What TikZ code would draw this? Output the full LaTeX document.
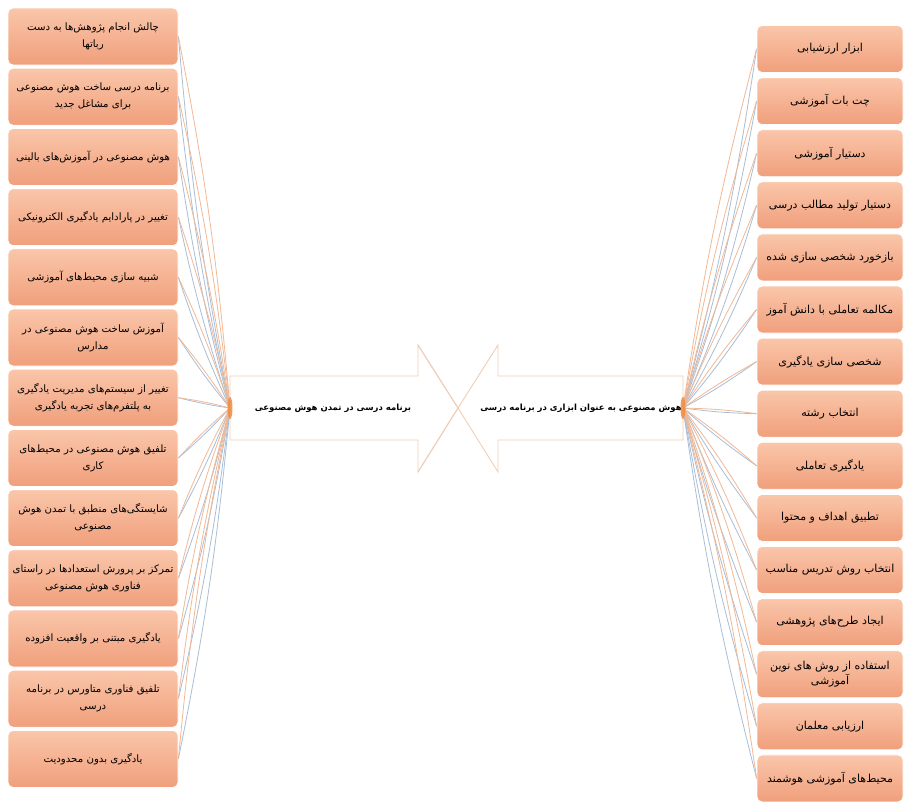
\documentclass[tikz,border=0pt]{standalone}
\usepackage{fontspec}
\TeXXeTstate=1
\newfontfamily\fa[Script=Arabic]{DejaVu Sans}
\newcommand\rl[1]{\beginR #1\endR}
\definecolor{boxtop}{HTML}{FAC6AA}
\definecolor{boxbot}{HTML}{F09F7B}
\definecolor{conblue}{HTML}{A9BED6}
\definecolor{conorange}{HTML}{F2B894}
\definecolor{arrowline}{HTML}{F1CDB6}
\definecolor{hubcol}{HTML}{F08A3C}
\begin{document}
\begin{tikzpicture}[x=1pt,y=-1pt,
  lbox/.style={rounded corners=5pt, top color=boxtop, bottom color=boxbot, draw=white, line width=0.8pt,
    minimum width=170pt, minimum height=57pt, align=center, inner sep=2pt,
    font=\fa\fontsize{10.2}{17}\selectfont},
  rbox/.style={lbox, minimum width=146pt, minimum height=47pt, font=\fa\fontsize{11}{15}\selectfont},
  conB/.style={draw=conblue, line width=0.8pt},
  conO/.style={draw=conorange, line width=0.8pt},
  bigarrow/.style={draw=arrowline, fill=white, line width=0.9pt},
  alabel/.style={font=\fa\bfseries\fontsize{8.5}{11}\selectfont, align=center}]
\useasboundingbox (0,0) rectangle (905,801);
\fill[white] (0,0) rectangle (905,801);
\coordinate (hubL) at (230,408);
\coordinate (hubR) at (683,408);
% left boxes
\foreach \t [count=\i from 0] in {
  {\rl{چالش انجام پژوهش‌ها به دست}\\\rl{رباتها}},
  {\rl{برنامه درسی ساخت هوش مصنوعی}\\\rl{برای مشاغل جدید}},
  {\rl{هوش مصنوعی در آموزش‌های بالینی}},
  {\rl{تغییر در پارادایم یادگیری الکترونیکی}},
  {\rl{شبیه سازی محیط‌های آموزشی}},
  {\rl{آموزش ساخت هوش مصنوعی در}\\\rl{مدارس}},
  {\rl{تغییر از سیستم‌های مدیریت یادگیری}\\\rl{به پلتفرم‌های تجربه یادگیری}},
  {\rl{تلفیق هوش مصنوعی در محیط‌های}\\\rl{کاری}},
  {\rl{شایستگی‌های منطبق با تمدن هوش}\\\rl{مصنوعی}},
  {\rl{تمرکز بر پرورش استعدادها در راستای}\\\rl{فناوری هوش مصنوعی}},
  {\rl{یادگیری مبتنی بر واقعیت افزوده}},
  {\rl{تلفیق فناوری متاورس در برنامه}\\\rl{درسی}},
  {\rl{یادگیری بدون محدودیت}}}
  \node[lbox] (L\i) at (93,{36.5+60.2*\i}) {\t};
% right boxes
\foreach \t [count=\i from 0] in {
  {\rl{ابزار ارزشیابی}},
  {\rl{چت بات آموزشی}},
  {\rl{دستیار آموزشی}},
  {\rl{دستیار تولید مطالب درسی}},
  {\rl{بازخورد شخصی سازی شده}},
  {\rl{مکالمه تعاملی با دانش آموز}},
  {\rl{شخصی سازی یادگیری}},
  {\rl{انتخاب رشته}},
  {\rl{یادگیری تعاملی}},
  {\rl{تطبیق اهداف و محتوا}},
  {\rl{انتخاب روش تدریس مناسب}},
  {\rl{ایجاد طرح‌های پژوهشی}},
  {\rl{استفاده از روش های نوین}\\\rl{آموزشی}},
  {\rl{ارزیابی معلمان}},
  {\rl{محیط‌های آموزشی هوشمند}}}
  \node[rbox] (R\i) at (830,{49+52.1*\i}) {\t};
% connectors
\foreach \i in {0,...,12} {
  \draw[conB] (hubL) to[bend left=3] (L\i.east);
  \draw[conO] (hubL) to[bend right=3] (L\i.east);
}
\foreach \i in {0,...,14} {
  \draw[conB] (hubR) to[bend right=3] (R\i.west);
  \draw[conO] (hubR) to[bend left=3] (R\i.west);
}
% big arrows
\draw[bigarrow] (230,376) -- (418,376) -- (418,345) -- (458,408) -- (418,472) -- (418,440) -- (230,440) -- cycle;
\draw[bigarrow] (683,376) -- (498,376) -- (498,345) -- (458,408) -- (498,472) -- (498,440) -- (683,440) -- cycle;
\draw[arrowline, line width=0.9pt] (418,345) -- (458,408) -- (418,472);
\node[alabel] (AL) at (333,408) {\rl{برنامه درسی در تمدن هوش مصنوعی}};
\node[alabel] (AR) at (581,408) {\rl{هوش مصنوعی به عنوان ابزاری در برنامه درسی}};
% hubs
\fill[hubcol, opacity=0.85] (hubL) ellipse (2.5 and 11);
\fill[hubcol, opacity=0.85] (hubR) ellipse (2.5 and 11);
\end{tikzpicture}
\end{document}
